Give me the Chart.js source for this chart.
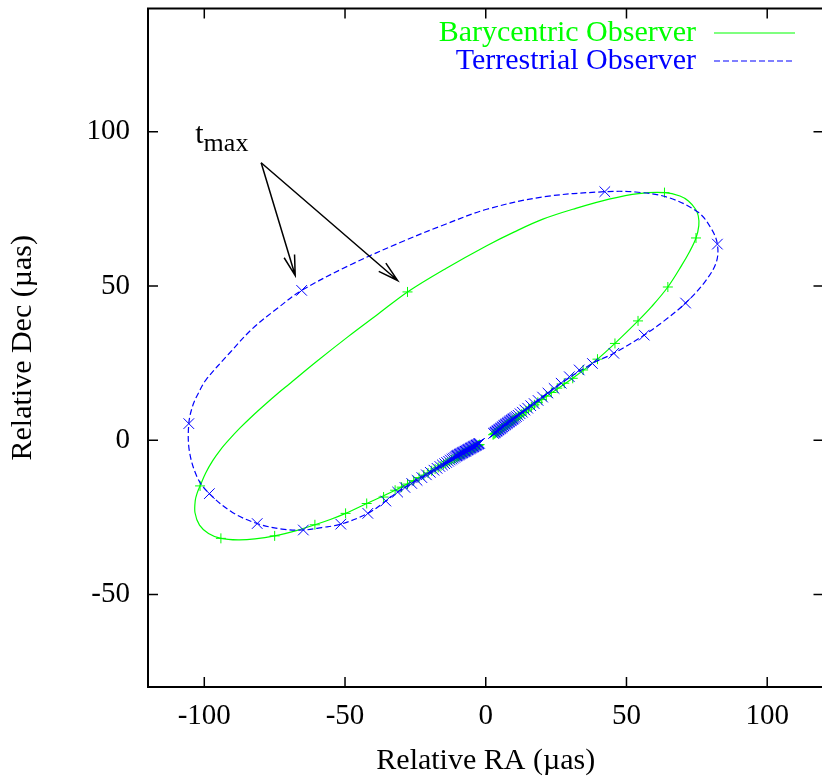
<!DOCTYPE html>
<html><head><meta charset="utf-8">
<script src="https://cdn.jsdelivr.net/npm/chart.js@4/dist/chart.umd.min.js"></script>
<style>html,body{margin:0;padding:0;overflow:hidden;background:#fff}</style>
</head><body><canvas id="c" width="832" height="779"></canvas>
<script>
// ---- axes ----
const xTicks = [-100, -50, 0, 50, 100];
const yTicks = [-50, 0, 50, 100];
const xRange = [-120, 120];
const yRange = [-80, 140];
const xTitle = 'Relative RA (\u00b5as)';
const yTitle = 'Relative Dec (\u00b5as)';
const seriesNames = ['Barycentric Observer', 'Terrestrial Observer'];

// ---- Barycentric observer: smooth track ----
const baryLineRA  = [-2.6,-12,-22,-32.2,-42.3,-49.8,-55,-60.7,-67,-75,-82,-88,-94.1,-98.5,-101.7,-103.3,-103.2,-102.6,-101.5,-99.5,-97,-94.2,-91.2,-87.3,-83,-78.4,-73.6,-70,-60,-48.9,-38,-27.8,-14,0.35,10,20.3,32,43.8,54.3,63.7,69,72,74.5,75.5,75.7,74.7,72.5,69.6,64.7,59,54.1,45.9,39.7,30.9,20,10,2.6];
const baryLineDec = [-1.6,-6.3,-11.3,-16.2,-20.5,-23.7,-25.6,-27.4,-29.2,-31,-32,-32.3,-31.8,-30.2,-27.5,-23.5,-19.5,-17.3,-14.8,-10.6,-6.6,-3.0,0.2,4.0,7.8,11.6,15.4,18.1,25.6,33.6,41.1,48.1,55.8,63.1,67.5,71.7,75.2,78.2,80.0,80.3,79.2,77.6,75,72.8,69.6,65.6,61.3,56.7,49.7,43.4,38.7,31.4,26.3,20.1,13.3,6.8,2.0];
// ---- Barycentric observer: epochs (+) ----
const baryRA = [-2.2,-2.5,-2.8,-3.1,-3.4,-3.7,-4.0,-4.3,-4.6,-4.9,-5.2,-5.5,-5.8,-6.1,-6.4,-6.7,-7.0,-7.3,-7.6,-7.9,-8.2,-8.5,-8.8,-9.1,-9.4,-9.7,-10.0,-10.3,-10.6,
  -11.1,-11.6,-12.2,-12.8,-13.5,-14.2,-15.0,-15.9,-16.9,-18.0,-19.2,-20.5,-22.0,-23.7,-25.6,-27.8,-29.9,
  -32.2,-36.3,-42.3,-49.8,-60.7,-75,-94.1,-101.5,-27.8,63.5,74.7,64.7,54.1,45.9,39.7,34.6,30.9,
  27.9,25.4,23.3,21.5,19.9,18.5,17.3,16.2,15.2,14.3,13.5,12.8,12.2,11.6,11.1,10.7,
  10.4,10.1,9.8,9.5,9.2,8.9,8.6,8.3,8.0,7.7,7.4,7.1,6.8,6.5,6.2,5.9,5.6,5.3,5.0,4.7,4.4,4.1,3.8,3.5,3.2,2.9,2.6];
const baryDec = [-1.4,-1.55,-1.7,-1.85,-2.0,-2.15,-2.3,-2.45,-2.6,-2.75,-2.9,-3.05,-3.2,-3.35,-3.5,-3.65,-3.8,-3.95,-4.1,-4.25,-4.4,-4.55,-4.7,-4.85,-5.0,-5.15,-5.3,-5.45,-5.6,
  -5.9,-6.1,-6.4,-6.7,-7.1,-7.4,-7.8,-8.3,-8.8,-9.3,-9.9,-10.6,-11.3,-12.1,-13.1,-14.2,-15.2,
  -16.2,-18.4,-20.5,-23.7,-27.4,-31,-31.8,-14.8,48.1,80.3,65.6,49.7,38.7,31.4,26.3,22.8,20.1,
  18.5,16.9,15.5,14.3,13.2,12.3,11.5,10.8,10.1,9.5,9.0,8.5,8.1,7.8,7.4,7.2,
  7.0,6.8,6.6,6.4,6.2,6.0,5.8,5.6,5.4,5.2,5.0,4.8,4.6,4.4,4.2,4.0,3.8,3.6,3.4,3.2,3.0,2.8,2.6,2.4,2.2,2.0,1.8];

// ---- Terrestrial observer: smooth track ----
const terrLineRA  = [-2.2,-10,-20,-31.3,-35.5,-41.9,-51.5,-58.3,-64.8,-72.4,-81.2,-90,-98.2,-102.4,-105.3,-105.5,-104,-101.8,-99.4,-91,-82.9,-74,-65.4,-47.8,-30.2,-15,0.35,20.3,42.3,53.2,64.9,75.5,80.2,82.3,81.9,77.8,71,63.5,56.3,45.5,37.9,26.8,15,2.6];
const terrLineDec = [-1.0,-4.9,-10.5,-16.8,-19.7,-23.7,-27.2,-28.3,-29.1,-28.8,-27,-23.4,-17.3,-12.2,-3.5,5.4,11.5,15.8,19.6,28.3,36.2,42.8,48.6,57.0,64.2,69.8,74.9,78.9,80.6,80.5,78.7,73.9,68.5,63.6,57.7,51.3,44.5,38.8,34.1,28.2,24.9,18.5,10.5,2.1];
// ---- Terrestrial observer: epochs (x) ----
const terrRA = [-2.2,-2.5,-2.8,-3.1,-3.4,-3.7,-4.0,-4.3,-4.6,-4.9,-5.2,-5.5,-5.8,-6.1,-6.4,-6.7,-7.0,-7.3,-7.6,-7.9,-8.2,-8.5,-8.8,-9.1,-9.4,-9.7,-10.0,-10.3,-10.6,
  -11.0,-11.5,-12.0,-12.6,-13.2,-13.9,-14.6,-15.4,-16.3,-17.3,-18.4,-19.7,-21.1,-22.7,-24.4,-26.3,-28.7,
  -31.3,-35.5,-41.9,-51.5,-64.8,-81.2,-98.2,-105.5,-65.4,42.3,82.3,71,56.3,45.5,37.9,33.2,29.7,26.8,
  24.3,22.1,20.2,18.6,17.2,16.0,14.9,13.9,13.0,12.2,11.5,10.9,10.4,
  10.0,9.7,9.4,9.1,8.8,8.5,8.2,7.9,7.6,7.3,7.0,6.7,6.4,6.1,5.8,5.5,5.2,4.9,4.6,4.3,4.0,3.7,3.4,3.1,2.8];
const terrDec = [-1.0,-1.15,-1.3,-1.45,-1.6,-1.75,-1.9,-2.05,-2.2,-2.35,-2.5,-2.65,-2.8,-2.95,-3.1,-3.25,-3.4,-3.55,-3.7,-3.85,-4.0,-4.15,-4.3,-4.45,-4.6,-4.75,-4.9,-5.05,-5.2,
  -5.5,-5.8,-6.1,-6.4,-6.8,-7.2,-7.6,-8.0,-8.5,-9.1,-9.7,-10.4,-11.2,-12.1,-13.0,-14.0,-15.3,
  -16.8,-19.7,-23.7,-27.2,-29.1,-27,-17.3,5.4,48.6,80.6,63.6,44.5,34.1,28.2,24.9,22.8,20.6,18.5,
  16.8,15.3,14.0,12.9,11.9,11.2,10.4,9.8,9.1,8.6,8.1,7.7,7.4,
  7.1,6.9,6.7,6.5,6.3,6.1,5.9,5.7,5.5,5.3,5.1,4.9,4.7,4.4,4.2,4.0,3.8,3.6,3.4,3.2,3.0,2.8,2.6,2.4,2.2];

// ---- annotation ----
const tmaxLabelAt = [-103.2, 96.5];
const arrowFrom = [-79.8, 90];
const arrowTips = [[-67.7, 53.4], [-31.3, 51.8]];

const GREEN = 'rgb(0,255,0)', BLUE = 'rgb(0,0,255)';
const FONT = '"Liberation Serif", "Times New Roman", serif';
const pts = (xs, ys) => xs.map((x, i) => ({x: x, y: ys[i]}));

const decor = {
  id: 'decor',
  afterDraw(chart) {
    const ctx = chart.ctx, a = chart.chartArea;
    const xs = chart.scales.x, ys = chart.scales.y;
    ctx.save();
    ctx.strokeStyle = '#000'; ctx.lineWidth = 2; ctx.setLineDash([]);
    ctx.strokeRect(a.left, a.top, a.right - a.left, a.bottom - a.top);
    ctx.lineWidth = 1.5;
    ctx.beginPath();
    xTicks.forEach(v => { const p = xs.getPixelForValue(v);
      ctx.moveTo(p, a.bottom); ctx.lineTo(p, a.bottom - 10);
      ctx.moveTo(p, a.top); ctx.lineTo(p, a.top + 10); });
    yTicks.forEach(v => { const p = ys.getPixelForValue(v);
      ctx.moveTo(a.left, p); ctx.lineTo(a.left + 10, p);
      ctx.moveTo(a.right, p); ctx.lineTo(a.right - 10, p); });
    ctx.stroke();
    const cols = [GREEN, BLUE], dashes = [[], [6, 3]];
    ctx.font = '30px ' + FONT; ctx.textAlign = 'right'; ctx.textBaseline = 'middle';
    seriesNames.forEach((n, i) => {
      const yy = 33 + 28 * i;
      ctx.fillStyle = cols[i]; ctx.fillText(n, 696, yy);
      ctx.strokeStyle = cols[i]; ctx.lineWidth = 1.2; ctx.setLineDash(dashes[i]);
      ctx.beginPath(); ctx.moveTo(714, yy); ctx.lineTo(795, yy); ctx.stroke();
    });
    ctx.setLineDash([]);
    const lx = xs.getPixelForValue(tmaxLabelAt[0]), ly = ys.getPixelForValue(tmaxLabelAt[1]);
    ctx.fillStyle = '#000'; ctx.textAlign = 'left'; ctx.textBaseline = 'alphabetic';
    ctx.font = '30px ' + FONT; ctx.fillText('t', lx, ly);
    const tw = ctx.measureText('t').width;
    ctx.font = '26px ' + FONT; ctx.fillText('max', lx + tw, ly + 8);
    const fx = xs.getPixelForValue(arrowFrom[0]), fy = ys.getPixelForValue(arrowFrom[1]);
    ctx.strokeStyle = '#000'; ctx.lineWidth = 1.5;
    arrowTips.forEach(t => {
      const tx = xs.getPixelForValue(t[0]), ty = ys.getPixelForValue(t[1]);
      const ang = Math.atan2(fy - ty, fx - tx), L = 21, h = 15 * Math.PI / 180;
      ctx.beginPath(); ctx.moveTo(fx, fy); ctx.lineTo(tx, ty);
      ctx.moveTo(tx + L * Math.cos(ang + h), ty + L * Math.sin(ang + h)); ctx.lineTo(tx, ty);
      ctx.lineTo(tx + L * Math.cos(ang - h), ty + L * Math.sin(ang - h));
      ctx.stroke();
    });
    ctx.restore();
  }
};

const tickFont = {family: FONT, size: 29};
const titleFont = {family: FONT, size: 30};
new Chart(document.getElementById('c'), {
  type: 'scatter',
  data: { datasets: [
    { label: seriesNames[1] + ' epochs', data: pts(terrRA, terrDec), pointStyle: 'crossRot', pointRadius: 7.5,
      borderColor: BLUE, backgroundColor: BLUE, pointBorderWidth: 1, showLine: false, order: 0 },
    { label: seriesNames[1], data: pts(terrLineRA, terrLineDec), showLine: true, tension: 0.35, pointRadius: 0,
      borderColor: BLUE, borderWidth: 1.2, borderDash: [6, 3], order: 1 },
    { label: seriesNames[0] + ' epochs', data: pts(baryRA, baryDec), pointStyle: 'cross', pointRadius: 5,
      borderColor: GREEN, backgroundColor: GREEN, pointBorderWidth: 1, showLine: false, order: 2 },
    { label: seriesNames[0], data: pts(baryLineRA, baryLineDec), showLine: true, tension: 0.35, pointRadius: 0,
      borderColor: GREEN, borderWidth: 1.2, order: 3 }
  ]},
  options: {
    responsive: false, animation: false, devicePixelRatio: 1,
    layout: { padding: { top: 5, right: 2, left: 0, bottom: 0 } },
    plugins: { legend: { display: false }, tooltip: { enabled: false } },
    scales: {
      x: { type: 'linear', min: xRange[0], max: xRange[1],
        afterBuildTicks: s => { s.ticks = xTicks.map(v => ({value: v})); },
        afterFit: s => { s.height = 92; s.paddingLeft = 0; s.paddingRight = 0; s.paddingTop = 0; s.paddingBottom = 0; },
        grid: { display: false, drawTicks: false }, border: { display: false },
        ticks: { color: '#000', font: tickFont, padding: 12, maxRotation: 0, autoSkip: false },
        title: { display: true, text: xTitle, color: '#000', font: titleFont, padding: { top: 0, bottom: 0 } } },
      y: { type: 'linear', min: yRange[0], max: yRange[1],
        afterBuildTicks: s => { s.ticks = yTicks.map(v => ({value: v})); },
        afterFit: s => { s.width = 148; s.paddingLeft = 0; s.paddingRight = 0; s.paddingTop = 0; s.paddingBottom = 0; },
        grid: { display: false, drawTicks: false }, border: { display: false },
        ticks: { color: '#000', font: tickFont, padding: 18, autoSkip: false },
        title: { display: true, text: yTitle, color: '#000', font: titleFont, padding: { top: 5, bottom: 0 } } }
    }
  },
  plugins: [decor]
});
</script></body></html>
